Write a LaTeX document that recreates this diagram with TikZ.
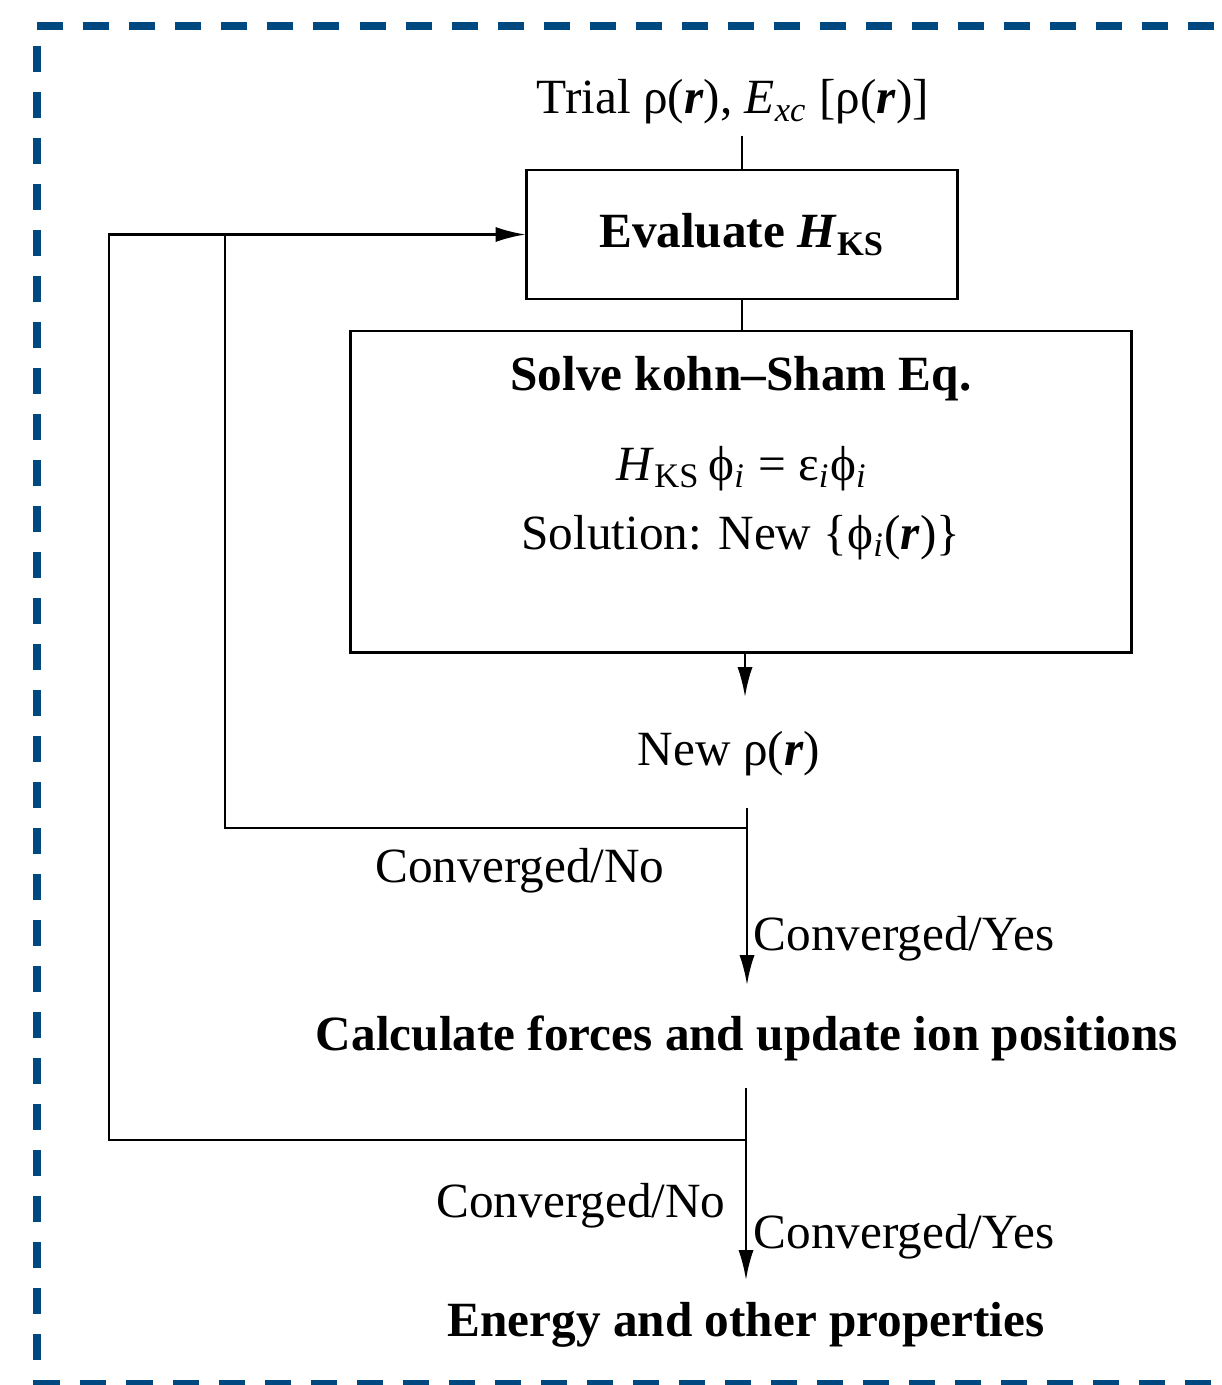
\documentclass[tikz,border=0pt]{standalone}
\usepackage{fontspec}
\setmainfont{Liberation Serif}
\usetikzlibrary{arrows.meta}
\definecolor{frameblue}{RGB}{0,72,128}

\begin{document}
\begin{tikzpicture}[x=0.01cm, y=-0.01cm,
    font=\fontsize{14}{17}\selectfont,
    titlefont/.style={font=\fontsize{14}{17}\selectfont\bfseries},
    box/.style={draw, line width=0.8pt, inner sep=0pt},
    lbl/.style={anchor=base, inner sep=0pt},
    link/.style={line width=0.7pt},
    arr/.style={link, -{Latex[length=8.5pt,width=4.3pt]}}]
    \useasboundingbox (0,0) rectangle (1221,1385);
    \draw[frameblue, line width=2pt, dash pattern=on 0.26cm off 0.2cm] (1260,26) -- (37,26) -- (37,1383) -- (1260,1383);

    \node[lbl, inner ysep=3pt] (trial) at (733,114) {Trial ρ(\textbf{\textit{r}}), \textit{E}\textsubscript{\textit{xc}} [ρ(\textbf{\textit{r}})]};
    \node[box, titlefont, minimum width=4.3cm, minimum height=1.29cm] (eval) at (742,234.5) {Evaluate \textit{H}\textsubscript{KS}};
    \node[box, minimum width=7.8cm, minimum height=3.21cm] (solve) at (741,491.5) {};
    \node[lbl, titlefont] (solvetitle) at (741,390) {Solve kohn–Sham Eq.};
    \node[lbl] (kseq) at (742,480) {\textit{H}\textsubscript{KS}\,ϕ\textsubscript{\textit{i}} = ε\textsubscript{\textit{i}}ϕ\textsubscript{\textit{i}}};
    \node[lbl] (kssol) at (741,549) {Solution: New \{ϕ\textsubscript{\textit{i}}(\textbf{\textit{r}})\}};
    \node[lbl] (rho) at (729,765) {New ρ(\textbf{\textit{r}})};
    \node[lbl] (no1) at (520,882) {Converged/No};
    \node[lbl, anchor=base west] (yes1) at (753,950) {Converged/Yes};
    \node[lbl, titlefont] (calc) at (747,1050) {Calculate forces and update ion positions};
    \node[lbl] (no2) at (581,1217) {Converged/No};
    \node[lbl, anchor=base west] (yes2) at (753,1248) {Converged/Yes};
    \node[lbl, titlefont] (energy) at (746,1336) {Energy and other properties};

    \coordinate (rhoin) at (745,697);
    \coordinate (rhoout) at (747,808);
    \coordinate (nofork) at (747,828);
    \coordinate (innerloop) at (225,828);
    \coordinate (calcin) at (747,985);
    \coordinate (calcout) at (746,1088);
    \coordinate (endfork) at (746,1140);
    \coordinate (outerloop) at (109,1140);
    \coordinate (endin) at (746,1280);

    \draw[link] (trial.south -| eval.north) -- (eval.north);
    \draw[link] (eval.south) -- (eval.south |- solve.north);
    \draw[arr] (solve.south -| rhoin) -- (rhoin);
    \draw[arr] (rhoout) -- (calcin);
    \draw[arr] (nofork) -- (innerloop) |- (eval.west);
    \draw[link] (endfork) -- (outerloop) |- (innerloop |- eval.west);
    \draw[arr] (calcout) -- (endin);
\end{tikzpicture}
\end{document}
